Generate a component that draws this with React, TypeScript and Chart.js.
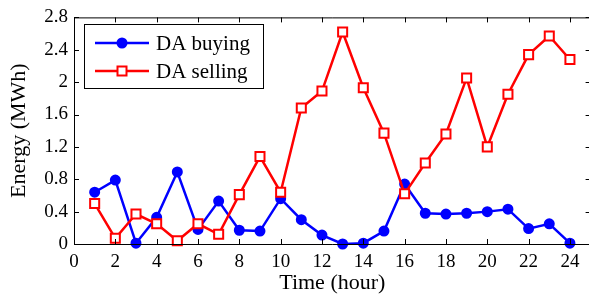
import React, { useEffect, useRef } from "react";
import { Chart, registerables } from "chart.js";

Chart.register(...registerables);

const hours = [1, 2, 3, 4, 5, 6, 7, 8, 9, 10, 11, 12, 13, 14, 15, 16, 17, 18, 19, 20, 21, 22, 23, 24];
const daBuying = [0.64, 0.79, 0.01, 0.33, 0.89, 0.18, 0.53, 0.17, 0.16, 0.56, 0.3, 0.11, 0.0, 0.01, 0.16, 0.74, 0.38, 0.37, 0.38, 0.4, 0.43, 0.19, 0.25, 0.01];
const daSelling = [0.5, 0.07, 0.37, 0.25, 0.04, 0.25, 0.12, 0.61, 1.08, 0.64, 1.68, 1.89, 2.62, 1.93, 1.37, 0.62, 1.0, 1.36, 2.05, 1.2, 1.85, 2.34, 2.57, 2.28];
const xTickValues = [0, 2, 4, 6, 8, 10, 12, 14, 16, 18, 20, 22, 24];
const yTickValues = [0, 0.4, 0.8, 1.2, 1.6, 2, 2.4, 2.8];
const seriesNames = ["DA buying", "DA selling"];
const xTitle = "Time (hour)";
const yTitle = "Energy (MWh)";

const FONT = "'Liberation Serif', 'Times New Roman', serif";

const framePlugin = {
  id: "frame",
  afterDraw(chart: any) {
    const { ctx, chartArea } = chart;
    const { left, right, top, bottom } = chartArea;
    const xs = chart.scales.x;
    const ys = chart.scales.y;
    ctx.save();
    ctx.strokeStyle = "#000";
    ctx.lineWidth = 1;
    ctx.beginPath();
    ctx.rect(left + 0.5, top + 0.5, right - left, bottom - top);
    ctx.stroke();
    const tl = 5;
    ctx.beginPath();
    xTickValues.forEach((v) => {
      const px = Math.round(xs.getPixelForValue(v)) + 0.5;
      ctx.moveTo(px, bottom);
      ctx.lineTo(px, bottom - tl);
      ctx.moveTo(px, top);
      ctx.lineTo(px, top + tl);
    });
    yTickValues.forEach((v) => {
      const py = Math.round(ys.getPixelForValue(v)) + 0.5;
      ctx.moveTo(left, py);
      ctx.lineTo(left + tl, py);
      ctx.moveTo(right, py);
      ctx.lineTo(right - tl, py);
    });
    ctx.stroke();

    // legend
    const lx = 84, ly = 24, lw = 179, lh = 64;
    ctx.fillStyle = "#fff";
    ctx.fillRect(lx, ly, lw, lh);
    ctx.strokeStyle = "#000";
    ctx.lineWidth = 1;
    ctx.strokeRect(lx + 0.5, ly + 0.5, lw, lh);
    const rows = [
      { y: 43, color: "#0000ff", style: "circle" },
      { y: 71, color: "#ff0000", style: "rect" },
    ];
    rows.forEach((r, i) => {
      ctx.strokeStyle = r.color;
      ctx.lineWidth = 2.5;
      ctx.beginPath();
      ctx.moveTo(95, r.y);
      ctx.lineTo(149, r.y);
      ctx.stroke();
      if (r.style === "circle") {
        ctx.fillStyle = r.color;
        ctx.beginPath();
        ctx.arc(122, r.y, 5.5, 0, Math.PI * 2);
        ctx.fill();
      } else {
        ctx.fillStyle = "#fff";
        ctx.lineWidth = 2;
        ctx.fillRect(117.5, r.y - 4.5, 9, 9);
        ctx.strokeRect(117.5, r.y - 4.5, 9, 9);
      }
      ctx.fillStyle = "#000";
      ctx.font = `21px ${FONT}`;
      ctx.textAlign = "left";
      ctx.textBaseline = "middle";
      ctx.fillText(seriesNames[i], 156, r.y + 1);
    });
    ctx.restore();
  },
};

export default function App() {
  const ref = useRef<HTMLCanvasElement | null>(null);
  useEffect(() => {
    if (!ref.current) return;
    const chart = new Chart(ref.current, {
      type: "line",
      data: {
        datasets: [
          {
            label: seriesNames[0],
            data: hours.map((h, i) => ({ x: h, y: daBuying[i] })),
            borderColor: "#0000ff",
            backgroundColor: "#0000ff",
            borderWidth: 2.5,
            pointStyle: "circle",
            pointRadius: 4.5,
            pointBorderWidth: 2,
            pointBackgroundColor: "#0000ff",
            pointBorderColor: "#0000ff",
            tension: 0,
            clip: false,
            order: 1,
          },
          {
            label: seriesNames[1],
            data: hours.map((h, i) => ({ x: h, y: daSelling[i] })),
            borderColor: "#ff0000",
            backgroundColor: "#ffffff",
            borderWidth: 2.5,
            pointStyle: "rect",
            pointRadius: 6.4,
            pointBorderWidth: 2,
            pointBackgroundColor: "#ffffff",
            pointBorderColor: "#ff0000",
            tension: 0,
            clip: false,
            order: 0,
          },
        ],
      },
      options: {
        responsive: false,
        animation: false,
        layout: { padding: { top: 15, right: 0, left: 0, bottom: 0 } },
        plugins: {
          legend: { display: false },
          tooltip: { enabled: false },
        },
        scales: {
          x: {
            type: "linear",
            min: 0,
            max: 25,
            grid: { display: false, drawTicks: false },
            border: { display: false },
            afterBuildTicks: (s: any) => {
              s.ticks = xTickValues.map((v) => ({ value: v }));
            },
            afterFit: (s: any) => {
              s.height = 56;
            },
            ticks: {
              autoSkip: false,
              maxRotation: 0,
              padding: 7,
              color: "#000",
              font: { family: FONT, size: 19 },
              callback: (v: any) => String(v),
            },
            title: {
              display: true,
              text: xTitle,
              color: "#000",
              font: { family: FONT, size: 22 },
              padding: { top: 0, bottom: 4 },
            },
          },
          y: {
            type: "linear",
            min: 0,
            max: 2.8,
            grid: { display: false, drawTicks: false },
            border: { display: false },
            afterBuildTicks: (s: any) => {
              s.ticks = yTickValues.map((v) => ({ value: v }));
            },
            afterFit: (s: any) => {
              s.width = 74;
            },
            ticks: {
              autoSkip: false,
              padding: 6,
              color: "#000",
              font: { family: FONT, size: 19 },
              callback: (v: any) => String(Math.round(Number(v) * 10) / 10),
            },
            title: {
              display: true,
              text: yTitle,
              color: "#000",
              font: { family: FONT, size: 22 },
              padding: { top: 6, bottom: 0 },
            },
          },
        },
      },
      plugins: [framePlugin],
    });
    return () => chart.destroy();
  }, []);
  return (
    <div style={{ position: "absolute", left: 0, top: 0, width: 589, height: 300, overflow: "hidden", background: "#fff" }}>
      <canvas ref={ref} width={599} height={300} style={{ display: "block", width: 599, height: 300 }} />
    </div>
  );
}
